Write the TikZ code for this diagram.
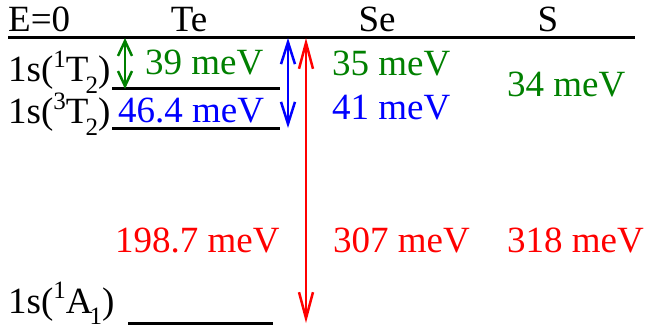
\documentclass[tikz,border=0pt]{standalone}
\usepackage{fontspec}
\setmainfont{Liberation Serif}
\usetikzlibrary{arrows.meta}
\definecolor{lvgreen}{HTML}{008000}
\definecolor{lvblue}{HTML}{0000FF}
\definecolor{lvred}{HTML}{FF0000}
\newcommand{\sml}[1]{{\fontsize{25}{25}\selectfont #1}}
\newcommand{\term}[3]{1s(\raisebox{0.4em}{\sml{#1}}#2\kern-0.08em\raisebox{-0.3em}{\sml{#3}})}

\begin{document}
\begin{tikzpicture}[x=1pt, y=-1pt,
      every node/.style={font=\fontsize{37}{40}\selectfont, inner sep=0pt, anchor=base west},
      level/.style={line width=3pt},
      gap/.style={line width=2.5pt, {Straight Barb[length=#1, width=14pt]}-{Straight Barb[length=#1, width=14pt]}}
    ]
    \useasboundingbox (0,0) rectangle (647,334);

    % reference level E=0 and headings
    \coordinate (zl) at (8,38);
    \coordinate (zr) at (635,38);
    \draw[level] (zl) -- (zr);
    \node (ezero) at (8,32) {E=0};
    \node[anchor=base] (te) at (189,32) {Te};
    \node[anchor=base] (se) at (377,32) {Se};
    \node[anchor=base] (s) at (548,32) {S};

    % Te levels
    \node (l1) at (8,82) {\term{1}{T}{2}};
    \node (l3) at (8,124) {\term{3}{T}{2}};
    \node (la) at (8,313) {\term{1}{A}{1}};
    \coordinate (t1l) at (112,89);  \coordinate (t1r) at (280,89);
    \coordinate (t3l) at (112,128); \coordinate (t3r) at (280,128);
    \coordinate (a1l) at (128,323); \coordinate (a1r) at (273,323);
    \draw[level] (t1l) -- (t1r);
    \draw[level] (t3l) -- (t3r);
    \draw[level] (a1l) -- (a1r);

    % gaps
    \coordinate (g0) at (125,38);  \coordinate (g1) at (125,89);
    \coordinate (b0) at (288,38);  \coordinate (b1) at (288,128);
    \coordinate (r0) at (306,38);  \coordinate (r1) at (306,323);
    \draw[gap=15pt, lvgreen] (g0) -- (g1);
    \draw[gap=22pt, lvblue] (b0) -- (b1);
    \draw[gap=26pt, lvred] (r0) -- (r1);

    % energies
    \node[text=lvgreen] (te1) at (145,75) {39 meV};
    \node[text=lvblue] (te3) at (118,122) {46.4 meV};
    \node[text=lvred] (tea) at (115,252) {198.7 meV};
    \node[text=lvgreen] (se1) at (332,76) {35 meV};
    \node[text=lvblue] (se3) at (332,120) {41 meV};
    \node[text=lvred] (sea) at (333,252) {307 meV};
    \node[text=lvgreen] (s1) at (507,96) {34 meV};
    \node[text=lvred] (sa) at (507,252) {318 meV};
  \end{tikzpicture}
\end{document}
